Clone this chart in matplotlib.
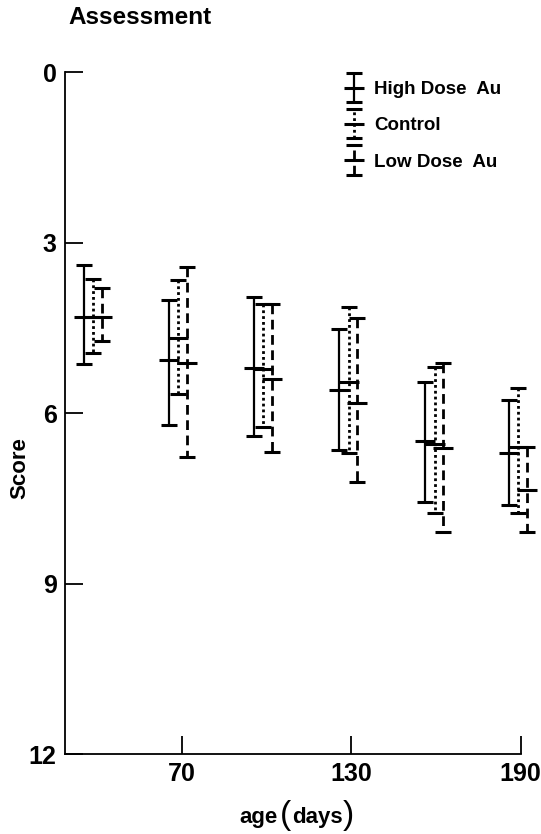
import matplotlib
matplotlib.use("Agg")
import matplotlib.pyplot as plt
from matplotlib.legend_handler import HandlerErrorbar

plt.rcParams['font.family'] = ['Liberation Sans', 'DejaVu Sans']

# ---- data ----
ages = [38.5, 68.5, 98.7, 129.0, 159.5, 189.0]

high_mean = [4.30, 5.07, 5.21, 5.60, 6.49, 6.70]
high_lo   = [3.40, 4.00, 3.96, 4.51, 5.46, 5.77]
high_hi   = [5.14, 6.21, 6.41, 6.65, 7.57, 7.62]

ctrl_mean = [4.30, 4.67, 5.22, 5.45, 6.55, 6.59]
ctrl_lo   = [3.63, 3.66, 4.08, 4.14, 5.18, 5.56]
ctrl_hi   = [4.94, 5.66, 6.24, 6.71, 7.76, 7.75]

low_mean  = [4.30, 5.11, 5.40, 5.82, 6.62, 7.35]
low_lo    = [3.80, 3.42, 4.08, 4.33, 5.12, 6.59]
low_hi    = [4.73, 6.77, 6.68, 7.21, 8.09, 8.09]

labels = ["High Dose  Au", "Control", "Low Dose  Au"]
xticks = [70, 130, 190]
yticks = [0, 3, 6, 9, 12]

# ---- figure ----
W, H = 541, 834
fig = plt.figure(figsize=(W / 100, H / 100), dpi=100)
ax = fig.add_axes([65 / W, 80 / H, 455.7 / W, 681.7 / H])

series = [
    (high_mean, high_lo, high_hi, -3.3, '-'),
    (ctrl_mean, ctrl_lo, ctrl_hi, 0.0, (0, (1.0, 1.1))),
    (low_mean, low_lo, low_hi, 3.1, (0, (3.5, 2.0))),
]

handles = []
for (m, lo, hi, dx, ls), lab in zip(series, labels):
    xs = [a + dx for a in ages]
    yerr = [[mm - l for mm, l in zip(m, lo)], [h - mm for mm, h in zip(m, hi)]]
    cont = ax.errorbar(xs, m, yerr=yerr, fmt='_', color='black', ms=14, mew=2.2,
                       ecolor='black', elinewidth=2.0 if ls != '-' else 1.6,
                       capsize=6, capthick=2.4, clip_on=False, label=lab)
    for c in cont[2]:
        c.set_linestyle(ls)
        c.set_clip_on(False)
    for c in cont[1]:
        c.set_clip_on(False)
    cont[0].set_clip_on(False)
    handles.append(cont)

ax.set_xlim(28.5, 190)
ax.set_ylim(12, 0)
ax.set_xticks(xticks)
ax.set_yticks(yticks)
ax.set_xticklabels([str(t) for t in xticks])
ax.set_yticklabels([str(t) for t in yticks])

for s in ['top', 'right']:
    ax.spines[s].set_visible(False)
for s in ['left', 'bottom']:
    ax.spines[s].set_linewidth(1.3)

ax.tick_params(axis='both', direction='in', length=13, width=1.3,
               labelsize=18, pad=6)
for t in ax.get_xticklabels() + ax.get_yticklabels():
    t.set_fontweight('bold')

ax.set_ylabel("Score", fontsize=16, fontweight='bold')
ax.yaxis.set_label_coords(-0.077, 0.42)

# x label: "age (days)" with tall parentheses
fig.text(259 / W, 11 / H, "age", fontsize=16, fontweight='bold',
         ha='center', va='baseline')
fig.text(317 / W, 11 / H, "days", fontsize=16, fontweight='bold',
         ha='center', va='baseline')
fig.text(286 / W, 10 / H, "(", fontsize=24, ha='center', va='baseline')
fig.text(348 / W, 10 / H, ")", fontsize=24, ha='center', va='baseline')

fig.text(68 / W, 1 - 18 / H, "Assessment", fontsize=17.5, fontweight='bold',
         ha='left', va='center')

leg = ax.legend(handles=handles, labels=labels, loc='upper left',
                bbox_to_anchor=(0.578, 1.012), frameon=False, fontsize=13.5,
                handlelength=0.9, handletextpad=0.65, labelspacing=1.02,
                numpoints=1,
                handler_map={type(handles[0]): HandlerErrorbar(yerr_size=0.78)})
for t in leg.get_texts():
    t.set_fontweight('bold')

fig.savefig("out.png", dpi=100)
